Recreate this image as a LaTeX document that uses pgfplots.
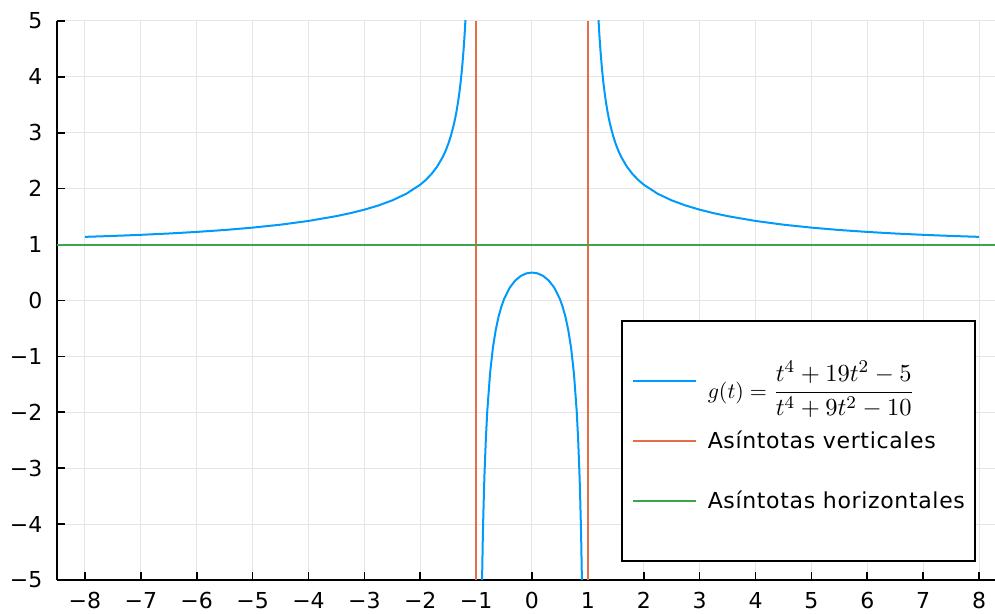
\documentclass[border=0pt]{standalone}
\usepackage{fontspec}
\setmainfont{DejaVu Sans}
\newfontfamily\legfont[LetterSpace=3]{DejaVu Sans}
\usepackage{amsmath}
\usepackage{graphicx}
\usepackage{pgfplots}
\pgfplotsset{compat=1.18}
\definecolor{jblue}{RGB}{0,154,250}
\definecolor{jred}{RGB}{227,111,71}
\definecolor{jgreen}{RGB}{62,164,78}
\begin{document}
\begin{tikzpicture}
\begin{axis}[
  scale only axis,
  width=475pt, height=279.5pt,
  xmin=-8.5, xmax=8.5, ymin=-5, ymax=5,
  axis x line*=bottom, axis y line*=left,
  axis line style={line width=1pt, black},
  tick align=inside,
  major tick length=4pt,
  tick style={line width=0.8pt, black},
  xtick={-8,-7,...,8},
  xticklabels={−8,−7,−6,−5,−4,−3,−2,−1,0,1,2,3,4,5,6,7,8},
  ytick={-5,-4,...,5},
  yticklabels={−5,−4,−3,−2,−1,0,1,2,3,4,5},
  ticklabel style={font=\fontsize{11pt}{13pt}\selectfont},
  xticklabel style={yshift=-2.8pt},
  yticklabel style={xshift=-3.8pt},
  grid=major,
  major grid style={line width=0.5pt, black!10},
  clip=true,
  legend cell align=left,
  legend image code/.code={\draw[#1] (0pt,0pt) -- (31.5pt,0pt);},
  legend style={
    at={(rel axis cs:0.5937,0.0322)}, anchor=south west,
    draw=black, line width=0.75pt, fill=white,
    inner xsep=5pt, inner ysep=15pt,
    row sep=0pt, column sep=5.5pt,
    nodes={minimum height=30pt, inner sep=0pt, font=\legfont\fontsize{11pt}{13pt}\selectfont},
    cells={anchor=west},
  },
]
\coordinate (O) at (rel axis cs:0,0);
% left outer branch
\addplot[jblue, line width=1pt] coordinates {
(-8,1.1384) (-7.5,1.1550) (-7,1.1748) (-6.5,1.1984) (-6,1.2267) (-5.5,1.2612) (-5,1.3036)
(-4.5,1.3563) (-4,1.4231) (-3.5,1.5094) (-3.25,1.5626) (-3,1.625) (-2.75,1.6995)
(-2.5,1.7912) (-2.25,1.9090) (-2,2.0714) (-1.9,2.1570) (-1.8,2.2611) (-1.7,2.3915)
(-1.6,2.5617) (-1.55,2.6686) (-1.5,2.7959) (-1.45,2.9505) (-1.4,3.1426) (-1.375,3.2574)
(-1.35,3.3884) (-1.325,3.5393) (-1.3,3.7151) (-1.275,3.9225) (-1.25,4.1712)
(-1.225,4.4748) (-1.21,4.6916) (-1.2,4.8541) (-1.19,5.0337) (-1.18,5.2332)
};
\addlegendentry{$g(t) = \scalebox{1.12}{$\dfrac{t^4+19t^2-5}{t^4+9t^2-10}$}$}
% inner branch
\addplot[jblue, line width=1pt, forget plot] coordinates {
(-0.9,-5.3781) (-0.88,-4.2430) (-0.875,-4.0160) (-0.86,-3.4325) (-0.85,-3.1086)
(-0.825,-2.4611) (-0.8,-1.9762) (-0.75,-1.2992) (-0.7,-0.8505) (-0.65,-0.5327)
(-0.6,-0.2971) (-0.55,-0.1168) (-0.5,0.0244) (-0.4,0.2267) (-0.3,0.3574) (-0.2,0.4397)
(-0.1,0.4854) (0,0.5) (0.1,0.4854) (0.2,0.4397) (0.3,0.3574) (0.4,0.2267) (0.5,0.0244)
(0.55,-0.1168) (0.6,-0.2971) (0.65,-0.5327) (0.7,-0.8505) (0.75,-1.2992) (0.8,-1.9762)
(0.825,-2.4611) (0.85,-3.1086) (0.86,-3.4325) (0.875,-4.0160) (0.88,-4.2430) (0.9,-5.3781)
};
% right outer branch
\addplot[jblue, line width=1pt, forget plot] coordinates {
(1.18,5.2332) (1.19,5.0337) (1.2,4.8541) (1.21,4.6916) (1.225,4.4748) (1.25,4.1712)
(1.275,3.9225) (1.3,3.7151) (1.325,3.5393) (1.35,3.3884) (1.375,3.2574) (1.4,3.1426)
(1.45,2.9505) (1.5,2.7959) (1.55,2.6686) (1.6,2.5617) (1.7,2.3915) (1.8,2.2611)
(1.9,2.1570) (2,2.0714) (2.25,1.9090) (2.5,1.7912) (2.75,1.6995) (3,1.625)
(3.25,1.5626) (3.5,1.5094) (4,1.4231) (4.5,1.3563) (5,1.3036) (5.5,1.2612)
(6,1.2267) (6.5,1.1984) (7,1.1748) (7.5,1.1550) (8,1.1384)
};
% vertical asymptotes
\addplot[jred, line width=1pt] coordinates {(-1,-5) (-1,5)};
\addlegendentry{Asíntotas verticales}
\addplot[jred, line width=1pt, forget plot] coordinates {(1,-5) (1,5)};
% horizontal asymptote
\addplot[jgreen, line width=1pt] coordinates {(-8.5,1) (8.5,1)};
\addlegendentry{Asíntotas horizontales}
\end{axis}
\pgfresetboundingbox
\useasboundingbox ([xshift=-28.5pt,yshift=-17pt]O) rectangle ([xshift=469pt,yshift=290pt]O);
\end{tikzpicture}
\end{document}
